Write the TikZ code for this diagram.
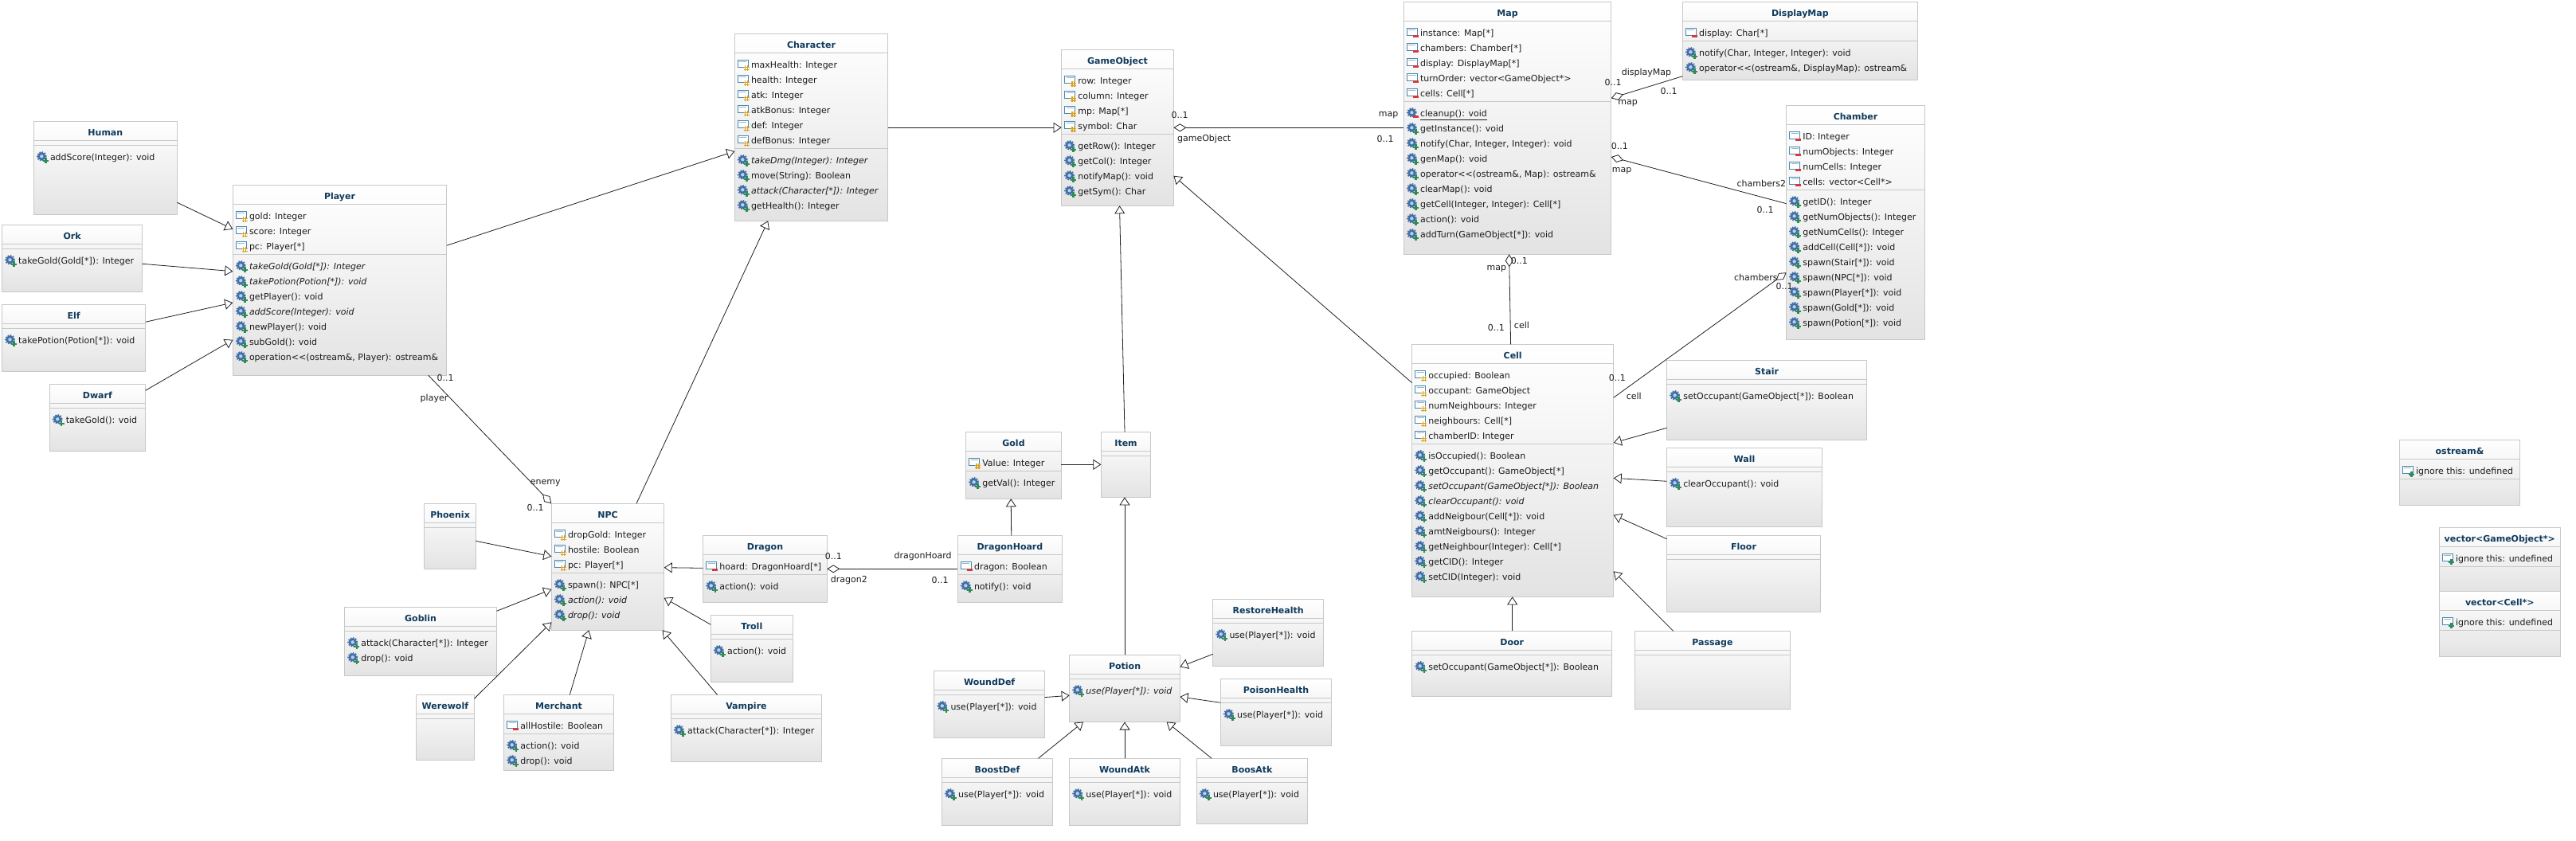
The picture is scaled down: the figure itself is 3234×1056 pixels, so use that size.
\documentclass[tikz,border=0pt]{standalone}
\usepackage{fontspec}
\usetikzlibrary{calc,arrows.meta,shapes.geometric}
\setmainfont{DejaVu Sans}
\definecolor{umlborder}{HTML}{C8C8C8}
\definecolor{umlbottom}{HTML}{E3E3E3}
\definecolor{umltitle}{HTML}{0F3A5C}
\definecolor{umltext}{HTML}{1C1C1C}
\definecolor{umlline}{HTML}{202020}
\definecolor{gearblue}{HTML}{3F6EA6}
\definecolor{gearlight}{HTML}{B9D0E6}
\definecolor{winblue}{HTML}{4A87AE}
\definecolor{mkgreen}{HTML}{2E8B57}
\definecolor{mkred}{HTML}{D03C3C}
\definecolor{mkyellow}{HTML}{D9A21F}
\tikzset{
  umlbox/.style={draw=umlborder,line width=1pt,top color=white,bottom color=umlbottom,
    inner sep=0pt,outer sep=0pt,anchor=north west},
  sepline/.style={draw=umlborder,line width=1pt},
  umltitlenode/.style={text=umltitle,font=\fontsize{11}{13}\selectfont\bfseries,anchor=base,inner sep=0pt},
  umlrownode/.style={text=umltext,font=\fontsize{11}{13}\selectfont,anchor=base west,inner sep=0pt},
  lbl/.style={text=umltext,font=\fontsize{11}{13}\selectfont,inner sep=0pt},
  gen/.style={draw=umlline,line width=0.8pt,-{Triangle[open,length=10pt,width=13pt]}},
  agg/.style={draw=umlline,line width=0.8pt,{Diamond[open,length=16pt,width=10pt]}-},
  attric/.pic={
    \fill[white] (4,-6) rectangle (17,3);
    \draw[winblue,line width=1pt] (4,-6) rectangle (17,3);
    \draw[winblue!60,line width=1pt] (6,-3.5) -- (15,-3.5);
  },
  gearic/.pic={
    \fill[gearblue] (10,-1) circle[radius=5pt];
    \draw[gearblue,line width=2pt,dash pattern=on 1.6pt off 1.6pt] (10,-1) circle[radius=5.4pt];
    \fill[gearlight] (10,-1) circle[radius=2.2pt];
  },
  mkp/.pic={
    \draw[mkyellow,line width=1.1pt] (13.4,1) -- (13.4,8) (16.4,1) -- (16.4,8) (11.5,3) -- (18.5,3) (11.5,6) -- (18.5,6);
  },
  mkm/.pic={
    \fill[mkred] (11.5,2.5) rectangle (18.5,6);
  },
  mku/.pic={
    \draw[mkgreen,line width=2.4pt] (15,1) -- (15,8) (11.5,4.5) -- (18.5,4.5);
  },
}
\newcount\umlY
\newcommand\umlmark[1]{\if#1p\pic at (umlc) {mkp};\fi\if#1m\pic at (umlc) {mkm};\fi\if#1u\pic at (umlc) {mku};\fi}
\newcommand\umlclass[8]{%
  % id, title, x1, y1, x2, y2, attributes, operations
  \pgfmathsetmacro\umlW{#5-#3}\pgfmathsetmacro\umlH{#6-#4}%
  \node[umlbox,minimum width=\umlW pt,minimum height=\umlH pt] (#1) at (#3,#4) {};
  \node[umltitlenode] (#1-title) at ($(#1.north)+(0,18)$) {#2};
  \draw[sepline] ($(#1.north west)+(0,24)$) -- ($(#1.north east)+(0,24)$);
  \global\umlY=39\relax
  \def\umlarg{#7}%
  \ifx\umlarg\empty\else
    \foreach \k/\t in {#7}{%
      \coordinate (umlc) at ($(#1.north west)+(0,\the\umlY)$);
      \pic at (umlc) {attric};
      \umlmark{\k}
      \node[umlrownode] (#1-r\the\umlY) at ($(umlc)+(20.5,4)$) {\t};
      \global\advance\umlY by 19\relax
    }%
  \fi
  \global\advance\umlY by -9\relax
  \draw[sepline] ($(#1.north west)+(0,\the\umlY)$) -- ($(#1.north east)+(0,\the\umlY)$);
  \global\advance\umlY by 15\relax
  \def\umlarg{#8}%
  \ifx\umlarg\empty\else
    \foreach \k/\t in {#8}{%
      \coordinate (umlc) at ($(#1.north west)+(0,\the\umlY)$);
      \pic at (umlc) {gearic};
      \if\k m\pic at (umlc) {mkm};\else\if\k l\pic at (umlc) {mkm};\else\pic at (umlc) {mku};\fi\fi
      \if\k i
        \node[umlrownode] (#1-r\the\umlY) at ($(umlc)+(20.5,4)$) {\itshape\t};
      \else\if\k l
        \node[umlrownode] (#1-r\the\umlY) at ($(umlc)+(20.5,4)$) {\underline{\t}};
      \else
        \node[umlrownode] (#1-r\the\umlY) at ($(umlc)+(20.5,4)$) {\t};
      \fi\fi
      \global\advance\umlY by 19\relax
    }%
  \fi
}
\begin{document}
\begin{tikzpicture}[x=1pt,y=-1pt]
\useasboundingbox (0,0) rectangle (3234,1056);
\fill[white] (0,0) rectangle (3234,1056);

\umlclass{human}{Human}{42.3}{152.3}{222.4}{269.3}{}{u/{addScore(Integer): void}}
\umlclass{ork}{Ork}{2.5}{282.3}{178.6}{366.3}{}{u/{takeGold(Gold[*]): Integer}}
\umlclass{elf}{Elf}{2.5}{382.3}{182.6}{466.3}{}{u/{takePotion(Potion[*]): void}}
\umlclass{dwarf}{Dwarf}{62.2}{482.3}{182.6}{566.3}{}{u/{takeGold(): void}}
\umlclass{player}{Player}{292.3}{232.3}{560.7}{471.3}
 {p/{gold: Integer},p/{score: Integer},p/{pc: Player[*]}}
 {i/{takeGold(Gold[*]): Integer},i/{takePotion(Potion[*]): void},u/{getPlayer(): void},i/{addScore(Integer): void},u/{newPlayer(): void},u/{subGold(): void},u/{operation<{}<(ostream\&, Player): ostream\&}}
\umlclass{character}{Character}{922.3}{42.3}{1114.7}{277.3}
 {p/{maxHealth: Integer},p/{health: Integer},p/{atk: Integer},p/{atkBonus: Integer},p/{def: Integer},p/{defBonus: Integer}}
 {i/{takeDmg(Integer): Integer},u/{move(String): Boolean},i/{attack(Character[*]): Integer},u/{getHealth(): Integer}}
\umlclass{gameobject}{GameObject}{1332.6}{62.3}{1473.4}{258.3}
 {p/{row: Integer},p/{column: Integer},p/{mp: Map[*]},p/{symbol: Char}}
 {u/{getRow(): Integer},u/{getCol(): Integer},u/{notifyMap(): void},u/{getSym(): Char}}
\umlclass{map}{Map}{1762.4}{2.3}{2022.7}{319.3}
 {m/{instance: Map[*]},m/{chambers: Chamber[*]},m/{display: DisplayMap[*]},m/{turnOrder: vector<GameObject*>},m/{cells: Cell[*]}}
 {l/{cleanup(): void},u/{getInstance(): void},u/{notify(Char, Integer, Integer): void},u/{genMap(): void},u/{operator<{}<(ostream\&, Map): ostream\&},u/{clearMap(): void},u/{getCell(Integer, Integer): Cell[*]},u/{action(): void},u/{addTurn(GameObject[*]): void}}
\umlclass{displaymap}{DisplayMap}{2112.4}{2.3}{2407.3}{100.3}
 {m/{display: Char[*]}}
 {u/{notify(Char, Integer, Integer): void},u/{operator<{}<(ostream\&, DisplayMap): ostream\&}}
\umlclass{chamber}{Chamber}{2242.6}{132.3}{2416.5}{426.3}
 {m/{ID: Integer},m/{numObjects: Integer},m/{numCells: Integer},m/{cells: vector<Cell*>}}
 {u/{getID(): Integer},u/{getNumObjects(): Integer},u/{getNumCells(): Integer},u/{addCell(Cell[*]): void},u/{spawn(Stair[*]): void},u/{spawn(NPC[*]): void},u/{spawn(Player[*]): void},u/{spawn(Gold[*]): void},u/{spawn(Potion[*]): void}}
\umlclass{cell}{Cell}{1772.7}{432.3}{2025.7}{749.3}
 {p/{occupied: Boolean},p/{occupant: GameObject},p/{numNeighbours: Integer},p/{neighbours: Cell[*]},p/{chamberID: Integer}}
 {u/{isOccupied(): Boolean},u/{getOccupant(): GameObject[*]},i/{setOccupant(GameObject[*]): Boolean},i/{clearOccupant(): void},u/{addNeigbour(Cell[*]): void},u/{amtNeigbours(): Integer},u/{getNeighbour(Integer): Cell[*]},u/{getCID(): Integer},u/{setCID(Integer): void}}
\umlclass{stair}{Stair}{2092.6}{452.3}{2343.6}{552.3}{}{u/{setOccupant(GameObject[*]): Boolean}}
\umlclass{wall}{Wall}{2092.6}{562.3}{2287.5}{661.3}{}{u/{clearOccupant(): void}}
\umlclass{floor}{Floor}{2092.6}{672.3}{2285.4}{768.3}{}{}
\umlclass{door}{Door}{1772.7}{792.3}{2023.7}{874.3}{}{u/{setOccupant(GameObject[*]): Boolean}}
\umlclass{passage}{Passage}{2052.2}{792.3}{2247.7}{890.3}{}{}
\umlclass{npc}{NPC}{692.3}{632.3}{833.7}{791.3}
 {p/{dropGold: Integer},p/{hostile: Boolean},p/{pc: Player[*]}}
 {u/{spawn(): NPC[*]},i/{action(): void},i/{drop(): void}}
\umlclass{phoenix}{Phoenix}{532.7}{632.3}{597.4}{714.3}{}{}
\umlclass{goblin}{Goblin}{432.7}{762.3}{623.5}{848.3}{}{u/{attack(Character[*]): Integer},u/{drop(): void}}
\umlclass{werewolf}{Werewolf}{522.4}{872.3}{595.4}{954.3}{}{}
\umlclass{merchant}{Merchant}{632.7}{872.3}{770.4}{967.3}{m/{allHostile: Boolean}}{u/{action(): void},u/{drop(): void}}
\umlclass{vampire}{Vampire}{842.3}{872.3}{1031.6}{956.3}{}{u/{attack(Character[*]): Integer}}
\umlclass{troll}{Troll}{892.3}{772.3}{995.4}{856.3}{}{u/{action(): void}}
\umlclass{dragon}{Dragon}{882.7}{672.3}{1038.3}{756.3}{m/{hoard: DragonHoard[*]}}{u/{action(): void}}
\umlclass{gold}{Gold}{1212.6}{542.3}{1332.4}{626.3}{p/{Value: Integer}}{u/{getVal(): Integer}}
\umlclass{item}{Item}{1382.4}{542.3}{1444.7}{624.3}{}{}
\umlclass{hoard}{DragonHoard}{1202.3}{672.3}{1333.5}{756.3}{m/{dragon: Boolean}}{u/{notify(): void}}
\umlclass{potion}{Potion}{1342.7}{822.3}{1481.4}{906.5}{}{i/{use(Player[*]): void}}
\umlclass{restore}{RestoreHealth}{1522.8}{752.3}{1661.5}{836.3}{}{u/{use(Player[*]): void}}
\umlclass{poison}{PoisonHealth}{1532.4}{852.3}{1671.7}{936.3}{}{u/{use(Player[*]): void}}
\umlclass{wounddef}{WoundDef}{1172.8}{842.3}{1311.5}{926.3}{}{u/{use(Player[*]): void}}
\umlclass{boostdef}{BoostDef}{1182.4}{952.3}{1321.7}{1036.3}{}{u/{use(Player[*]): void}}
\umlclass{woundatk}{WoundAtk}{1342.7}{952.3}{1481.4}{1036.3}{}{u/{use(Player[*]): void}}
\umlclass{boosatk}{BoosAtk}{1502.3}{952.3}{1641.6}{1034.3}{}{u/{use(Player[*]): void}}
\umlclass{ostream}{ostream\&}{3012.3}{552.3}{3163.7}{634.3}{u/{ignore this: undefined}}{}
\umlclass{vecgo}{vector<GameObject*>}{3062.3}{662.3}{3214.3}{742.3}{u/{ignore this: undefined}}{}
\umlclass{veccell}{vector<Cell*>}{3062.3}{742.3}{3214.3}{824.3}{u/{ignore this: undefined}}{}

% generalisations
\draw[gen] ($(human.north east)+(0,102)$) -- ($(player.north west)+(0,55.4)$);
\draw[gen] ($(ork.north east)+(0,49)$) -- ($(player.north west)+(0,108.4)$);
\draw[gen] ($(elf.north east)+(0,22)$) -- ($(player.north west)+(0,147.7)$);
\draw[gen] ($(dwarf.north east)+(0,8)$) -- ($(player.north west)+(0,194.4)$);
\draw[gen] ($(player.north east)+(0,76)$) -- ($(character.north west)+(0,147.7)$);
\draw[gen] ($(npc.north west)+(106.7,0)$) -- ($(character.south west)+(41.9,0)$);
\draw[gen] ($(phoenix.north east)+(0,47)$) -- ($(npc.north west)+(0,66.4)$);
\draw[gen] ($(goblin.north east)+(0,5)$) -- ($(npc.north west)+(0,107.7)$);
\draw[gen] ($(werewolf.north east)+(0,5)$) -- ($(npc.south west)+(0,-10)$);
\draw[gen] ($(merchant.north west)+(82.6,0)$) -- ($(npc.south west)+(47,0)$);
\draw[gen] ($(vampire.north west)+(58.2,0)$) -- ($(npc.south east)+(-2.1,0)$);
\draw[gen] ($(troll.north west)+(0,12)$) -- ($(npc.north east)+(0,118.4)$);
\draw[gen] ($(dragon.north west)+(0,41)$) -- ($(npc.north east)+(0,80.4)$);
\draw[gen] ($(hoard.north west)+(67.4,0)$) -- ($(gold.south west)+(56.6,0)$);
\draw[gen] ($(gold.north east)+(0,41)$) -- ($(item.north west)+(0,41)$);
\draw[gen] ($(potion.north west)+(69.3,0)$) -- ($(item.south west)+(29.6,0)$);
\draw[gen] ($(item.north west)+(29.6,0)$) -- ($(gameobject.south west)+(72.9,0)$);
\draw[gen] ($(character.north east)+(0,118)$) -- ($(gameobject.north west)+(0,98)$);
\draw[gen] ($(cell.north west)+(0,48.4)$) -- ($(gameobject.north east)+(0,158.4)$);
\draw[gen] ($(restore.north west)+(0,69)$) -- ($(potion.north east)+(0,15)$);
\draw[gen] ($(poison.north west)+(0,30)$) -- ($(potion.north east)+(0,52.6)$);
\draw[gen] ($(wounddef.north east)+(0,33.3)$) -- ($(potion.north west)+(0,51)$);
\draw[gen] ($(boostdef.north west)+(121,0)$) -- ($(potion.south west)+(17.3,0)$);
\draw[gen] ($(woundatk.north west)+(69.3,0)$) -- ($(potion.south west)+(69.3,0)$);
\draw[gen] ($(boosatk.north west)+(18.9,0)$) -- ($(potion.south west)+(121.9,0)$);
\draw[gen] ($(stair.north west)+(0,85)$) -- ($(cell.north east)+(0,123.7)$);
\draw[gen] ($(wall.north west)+(0,42)$) -- ($(cell.north east)+(0,168)$);
\draw[gen] ($(floor.north west)+(0,4.4)$) -- ($(cell.north east)+(0,214.4)$);
\draw[gen] ($(door.north west)+(126,0)$) -- ($(cell.south west)+(126,0)$);
\draw[gen] ($(passage.north west)+(48.5,0)$) -- ($(cell.north east)+(0,285)$);

% aggregations
\draw[agg] ($(npc.north west)$) -- ($(player.south west)+(245.5,0)$);
\draw[agg] ($(dragon.north east)+(0,42)$) -- ($(hoard.north west)+(0,42)$);
\draw[agg] ($(gameobject.north east)+(0,98)$) -- ($(map.north west)+(0,158)$);
\draw[agg] ($(map.north east)+(0,121)$) -- ($(displaymap.north west)+(0,93.4)$);
\draw[agg] ($(map.north east)+(0,194.7)$) -- ($(chamber.north west)+(0,123.4)$);
\draw[agg] ($(map.south west)+(132.2,0)$) -- ($(cell.north west)+(123.9,0)$);
\draw[agg] ($(chamber.north west)+(0,210)$) -- ($(cell.north east)+(0,67)$);

% association end labels
\node[lbl] (l1) at (559,474.3) {0..1};
\node[lbl] (l2) at (545,500.7) {player};
\node[lbl] (l3) at (684.7,606.7) {enemy};
\node[lbl] (l4) at (672,637) {0..1};
\node[lbl] (l5) at (1046.4,698.3) {0..1};
\node[lbl] (l6) at (1158.7,698.3) {dragonHoard};
\node[lbl] (l7) at (1065.8,728.3) {dragon2};
\node[lbl] (l8) at (1180,728.3) {0..1};
\node[lbl] (l9) at (1481,144.3) {0..1};
\node[lbl] (l10) at (1511.6,174.3) {gameObject};
\node[lbl] (l11) at (1743,144.4) {map};
\node[lbl] (l12) at (1739,174.3) {0..1};
\node[lbl] (l13) at (2067,91.3) {displayMap};
\node[lbl] (l14) at (2025.2,103.3) {0..1};
\node[lbl] (l15) at (2095.1,114.3) {0..1};
\node[lbl] (l16) at (2043.6,129.7) {map};
\node[lbl] (l17) at (2033.4,183.3) {0..1};
\node[lbl] (l18) at (2036,214.7) {map};
\node[lbl] (l19) at (2211.4,230.3) {chambers2};
\node[lbl] (l20) at (2216,263.3) {0..1};
\node[lbl] (l21) at (1907.3,327.3) {0..1};
\node[lbl] (l22) at (1878.8,337.7) {map};
\node[lbl] (l23) at (1878.3,411.3) {0..1};
\node[lbl] (l24) at (1910.4,408.3) {cell};
\node[lbl] (l25) at (2204.3,348.3) {chambers};
\node[lbl] (l26) at (2240,359.3) {0..1};
\node[lbl] (l27) at (2030.3,474.3) {0..1};
\node[lbl] (l28) at (2051.2,497.3) {cell};
\end{tikzpicture}
\end{document}
